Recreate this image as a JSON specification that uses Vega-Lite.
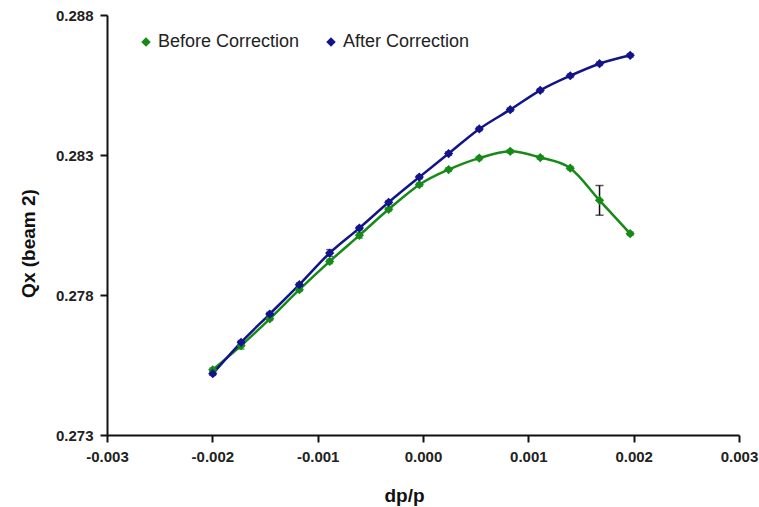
{
  "$schema": "https://vega.github.io/schema/vega-lite/v6.json",
  "width": 632,
  "height": 420,
  "autosize": "none",
  "padding": {"left": 107, "top": 15, "right": 20, "bottom": 72},
  "background": "white",
  "config": {
    "view": {"stroke": null},
    "font": "Liberation Sans"
  },
  "data": {"values": [
    {"dp": -0.001996, "qx": 0.27533, "err": 0.00006, "series": "Before Correction"},
    {"dp": -0.001727, "qx": 0.27619, "err": 0.00012, "series": "Before Correction"},
    {"dp": -0.001455, "qx": 0.27715, "err": 0.00006, "series": "Before Correction"},
    {"dp": -0.001174, "qx": 0.27819, "err": 0.00006, "series": "Before Correction"},
    {"dp": -0.000886, "qx": 0.27920, "err": 0.00008, "series": "Before Correction"},
    {"dp": -0.000604, "qx": 0.28013, "err": 0.00010, "series": "Before Correction"},
    {"dp": -0.000326, "qx": 0.28106, "err": 0.00006, "series": "Before Correction"},
    {"dp": -0.000035, "qx": 0.28194, "err": 0.00006, "series": "Before Correction"},
    {"dp": 0.000243, "qx": 0.28248, "err": 0.00006, "series": "Before Correction"},
    {"dp": 0.000534, "qx": 0.28289, "err": 0.00006, "series": "Before Correction"},
    {"dp": 0.000828, "qx": 0.28313, "err": 0.00006, "series": "Before Correction"},
    {"dp": 0.001113, "qx": 0.28291, "err": 0.00006, "series": "Before Correction"},
    {"dp": 0.001398, "qx": 0.28253, "err": 0.00006, "series": "Before Correction"},
    {"dp": 0.001676, "qx": 0.28138, "err": 0.00053, "series": "Before Correction"},
    {"dp": 0.001967, "qx": 0.28019, "err": 0.00006, "series": "Before Correction"},
    {"dp": -0.001996, "qx": 0.27519, "err": 0.00006, "series": "After Correction"},
    {"dp": -0.001727, "qx": 0.27631, "err": 0.00006, "series": "After Correction"},
    {"dp": -0.001455, "qx": 0.27732, "err": 0.00006, "series": "After Correction"},
    {"dp": -0.001174, "qx": 0.27837, "err": 0.00006, "series": "After Correction"},
    {"dp": -0.000886, "qx": 0.27950, "err": 0.00012, "series": "After Correction"},
    {"dp": -0.000604, "qx": 0.28039, "err": 0.00006, "series": "After Correction"},
    {"dp": -0.000326, "qx": 0.28131, "err": 0.00006, "series": "After Correction"},
    {"dp": -0.000035, "qx": 0.28221, "err": 0.00006, "series": "After Correction"},
    {"dp": 0.000243, "qx": 0.28305, "err": 0.00006, "series": "After Correction"},
    {"dp": 0.000534, "qx": 0.28393, "err": 0.00006, "series": "After Correction"},
    {"dp": 0.000828, "qx": 0.28462, "err": 0.00006, "series": "After Correction"},
    {"dp": 0.001113, "qx": 0.28531, "err": 0.00006, "series": "After Correction"},
    {"dp": 0.001398, "qx": 0.28583, "err": 0.00006, "series": "After Correction"},
    {"dp": 0.001676, "qx": 0.28626, "err": 0.00006, "series": "After Correction"},
    {"dp": 0.001967, "qx": 0.28656, "err": 0.00006, "series": "After Correction"}
  ]},
  "encoding": {
    "x": {"field": "dp", "type": "quantitative",
          "scale": {"domain": [-0.003, 0.003], "nice": false, "zero": false},
          "axis": {"title": "dp/p", "values": [-0.003, -0.002, -0.001, 0, 0.001, 0.002, 0.003], "format": ".3f",
                   "labelExpr": "replace(datum.label, '\u2212', '-')", "labelFlush": false, "labelOverlap": false,
                   "grid": false, "domainColor": "#111", "domainWidth": 2, "tickColor": "#111", "tickWidth": 2, "tickSize": 7,
                   "labelFont": "Liberation Sans", "labelFontWeight": "bold", "labelFontSize": 15, "labelColor": "#222",
                   "titleFont": "Liberation Sans", "titleFontWeight": "bold", "titleFontSize": 19, "titleColor": "#111",
                   "labelPadding": 7, "titleX": 297, "titleY": 66, "titleAlign": "center", "titleBaseline": "alphabetic"}},
    "y": {"field": "qx", "type": "quantitative",
          "scale": {"domain": [0.273, 0.288], "nice": false, "zero": false},
          "axis": {"title": "Qx (beam 2)", "values": [0.273, 0.278, 0.283, 0.288], "format": ".3f",
                   "labelFlush": false, "labelOverlap": false,
                   "grid": false, "domainColor": "#111", "domainWidth": 2, "tickColor": "#111", "tickWidth": 2, "tickSize": 7,
                   "labelFont": "Liberation Sans", "labelFontWeight": "bold", "labelFontSize": 15, "labelColor": "#222",
                   "titleFont": "Liberation Sans", "titleFontWeight": "bold", "titleFontSize": 19, "titleColor": "#111",
                   "labelPadding": 7, "titleX": -79, "titleY": 228, "titleAlign": "center", "titleBaseline": "middle"}}
  },
  "layer": [
    {
      "mark": {"type": "line", "interpolate": "cardinal", "strokeWidth": 2.5},
      "encoding": {
        "color": {"field": "series", "type": "nominal",
                  "scale": {"domain": ["Before Correction", "After Correction"], "range": ["#168a16", "#13138a"]},
                  "legend": {"title": null, "orient": "none", "direction": "horizontal", "legendX": 30, "legendY": 18,
                             "symbolType": "diamond", "symbolSize": 90, "symbolStrokeWidth": 0, "symbolOpacity": 1,
                             "labelFontSize": 18, "labelFont": "Liberation Sans",
                             "labelColor": "#222", "columnPadding": 22, "labelOffset": 3,
                             "encode": {"symbols": {"update": {"opacity": {"value": 1}, "fillOpacity": {"value": 1}}}}}},
        "order": {"field": "dp"}
      }
    },
    {
      "transform": [{"filter": "datum.err < 0.0003"}],
      "mark": {"type": "errorbar", "ticks": {"size": 7}, "thickness": 1.5},
      "encoding": {
        "yError": {"field": "err"},
        "color": {"field": "series", "type": "nominal"}
      }
    },
    {
      "transform": [{"filter": "datum.err >= 0.0003"}],
      "mark": {"type": "errorbar", "ticks": {"size": 8}, "thickness": 1.5, "color": "#111"},
      "encoding": {
        "yError": {"field": "err"}
      }
    },
    {
      "mark": {"type": "point", "shape": "diamond", "filled": true, "size": 85, "opacity": 1},
      "encoding": {
        "color": {"field": "series", "type": "nominal"}
      }
    }
  ]
}
